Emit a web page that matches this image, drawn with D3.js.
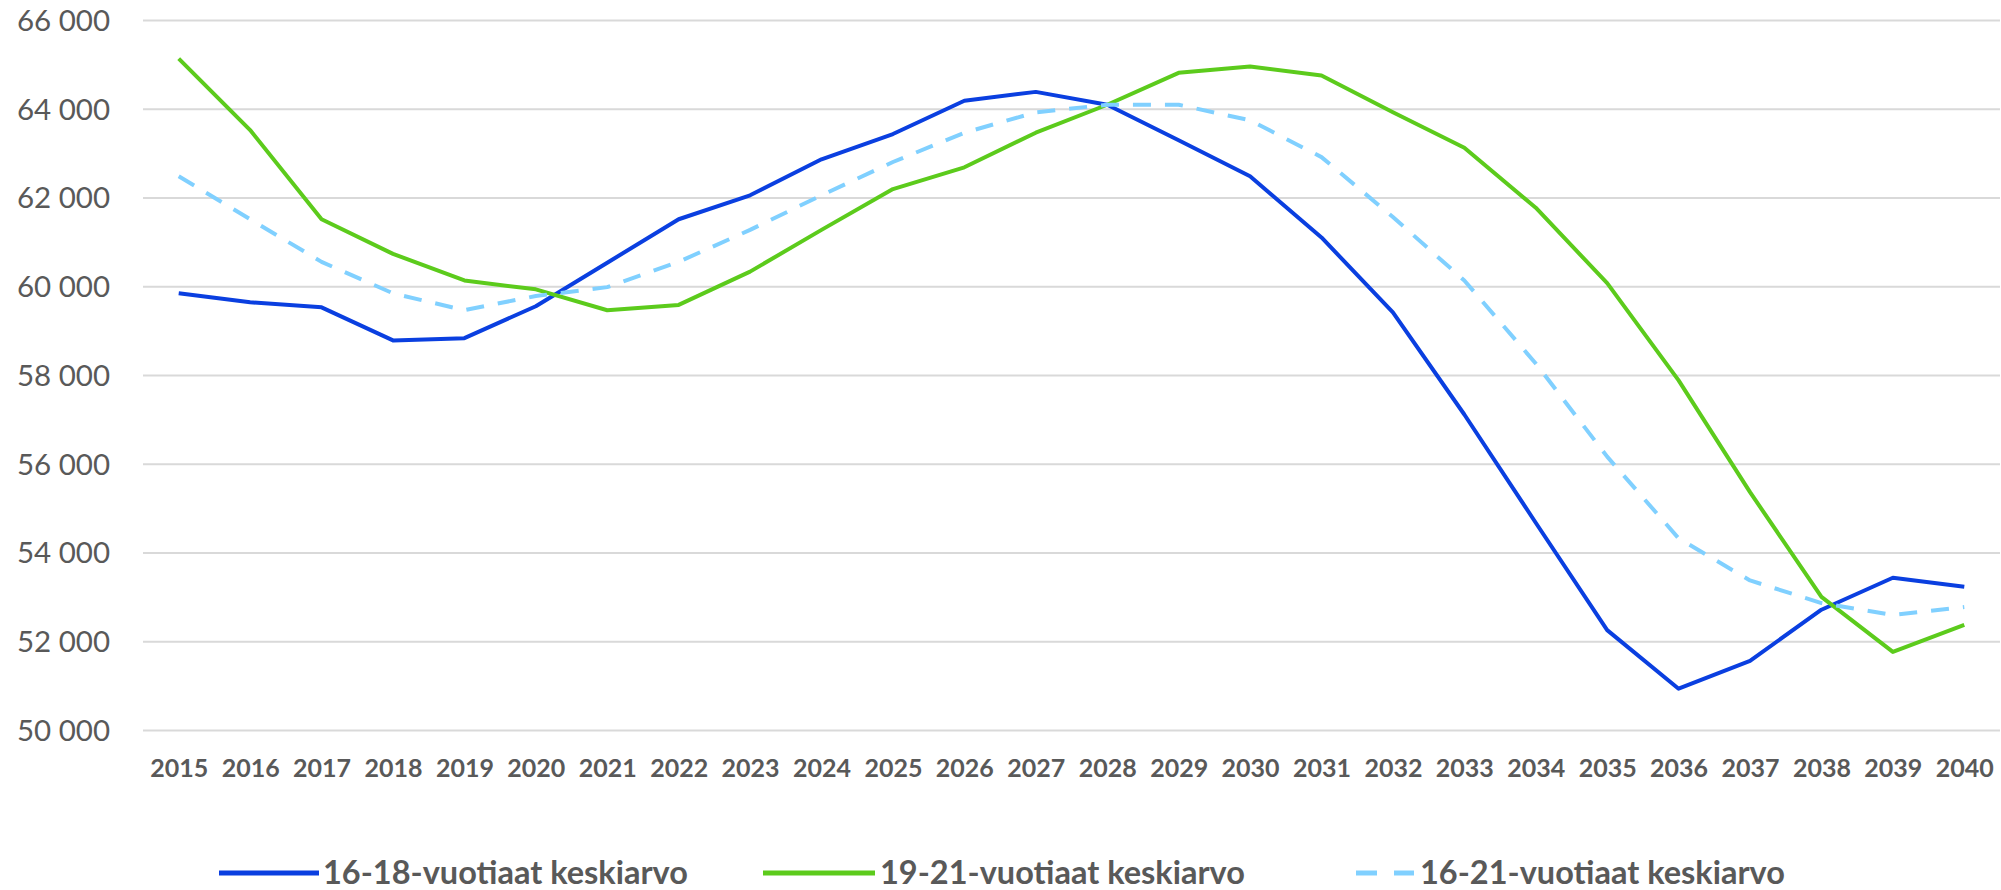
<!DOCTYPE html>
<html>
<head>
<meta charset="utf-8">
<script src="https://cdn.jsdelivr.net/npm/d3@7"></script>
<style>
  html, body { margin: 0; padding: 0; background: #fff; }
  svg { display: block; }
</style>
</head>
<body>
<svg id="chart" width="2001" height="890"></svg>
<script>
const years = ["2015","2016","2017","2018","2019","2020","2021","2022","2023","2024","2025","2026","2027","2028","2029","2030","2031","2032","2033","2034","2035","2036","2037","2038","2039","2040"];
const age16to18 = [59840,59640,59525,58780,58830,59550,60530,61510,62050,62860,63430,64180,64380,64090,63290,62480,61100,59410,57110,54670,52250,50930,51560,52710,53430,53230];
const age19to21 = [65130,63520,61510,60730,60130,59930,59460,59580,60330,61270,62190,62680,63460,64090,64810,64950,64750,63920,63120,61770,60070,57880,55360,53000,51760,52370];
const age16to21 = [62480,61510,60550,59840,59460,59780,59980,60550,61270,62050,62800,63460,63920,64090,64090,63740,62910,61560,60130,58260,56160,54320,53370,52860,52590,52770];
const yTicks = [50000,52000,54000,56000,58000,60000,62000,64000,66000];
const seriesNames = ["16-18-vuotiaat keskiarvo","19-21-vuotiaat keskiarvo","16-21-vuotiaat keskiarvo"];

const series = [
  {name: seriesNames[0], values: age16to18, color: "#0a3fe0", dash: null},
  {name: seriesNames[1], values: age19to21, color: "#5ccb1c", dash: null},
  {name: seriesNames[2], values: age16to21, color: "#80d0ff", dash: "18,14"}
];

const svg = d3.select("#chart");
const pLeft = 143, pRight = 2000, pTop = 20, pBottom = 730;
const textColor = "#595959";
const fontFam = "Lato, 'Open Sans', sans-serif";

const x = d3.scalePoint().domain(years).range([pLeft, pRight]).padding(0.5);
const y = d3.scaleLinear().domain([50000, 66000]).range([pBottom, pTop]);

// gridlines + y labels via axis
const yAxis = d3.axisLeft(y).tickValues(yTicks)
  .tickSize(-(pRight - pLeft))
  .tickFormat(d => d3.format(",")(d).replace(/,/g, " "));
const gy = svg.append("g").attr("transform", `translate(${pLeft},0)`).call(yAxis);
gy.select(".domain").remove();
gy.selectAll(".tick line").attr("stroke", "#d9d9d9").attr("stroke-width", 2);
gy.selectAll(".tick text")
  .attr("x", -(pLeft - 110))
  .attr("dy", "0.35em")
  .attr("fill", textColor)
  .style("font-family", fontFam)
  .style("font-size", "29.5px");

// x labels via axis
const xAxis = d3.axisBottom(x).tickSize(0).tickPadding(0);
const gx = svg.append("g").attr("transform", `translate(0,768)`).call(xAxis);
gx.select(".domain").remove();
gx.selectAll(".tick text")
  .attr("y", 0)
  .attr("dy", "0.35em")
  .attr("fill", textColor)
  .style("font-family", fontFam)
  .style("font-weight", "bold")
  .style("font-size", "25px");

// lines
const line = d3.line().x((d, i) => x(years[i])).y(d => y(d));
svg.append("g").selectAll("path").data(series).join("path")
  .attr("d", s => line(s.values))
  .attr("fill", "none")
  .attr("stroke", s => s.color)
  .attr("stroke-width", 4)
  .attr("stroke-linejoin", "round")
  .attr("stroke-dasharray", s => s.dash);

// legend
const legendY = 873;
const legendItems = [
  {s: series[0], x0: 219, x1: 319, tx: 323},
  {s: series[1], x0: 763, x1: 875, tx: 880},
  {s: series[2], x0: 1356, x1: 1414, tx: 1420}
];
const lg = svg.append("g");
legendItems.forEach(it => {
  const g = lg.append("g");
  if (it.s.dash) {
    g.append("line").attr("x1", it.x0).attr("x2", it.x0 + 21).attr("y1", legendY).attr("y2", legendY)
      .attr("stroke", it.s.color).attr("stroke-width", 5);
    g.append("line").attr("x1", it.x1 - 20).attr("x2", it.x1).attr("y1", legendY).attr("y2", legendY)
      .attr("stroke", it.s.color).attr("stroke-width", 5);
  } else {
    g.append("line").attr("x1", it.x0).attr("x2", it.x1).attr("y1", legendY).attr("y2", legendY)
      .attr("stroke", it.s.color).attr("stroke-width", 5);
  }
  g.append("text").attr("x", it.tx).attr("y", legendY).attr("dy", "0.35em")
    .attr("fill", textColor)
    .style("font-family", fontFam)
    .style("font-weight", "bold")
    .style("font-size", "32.5px")
    .text(it.s.name);
});
</script>
</body>
</html>
